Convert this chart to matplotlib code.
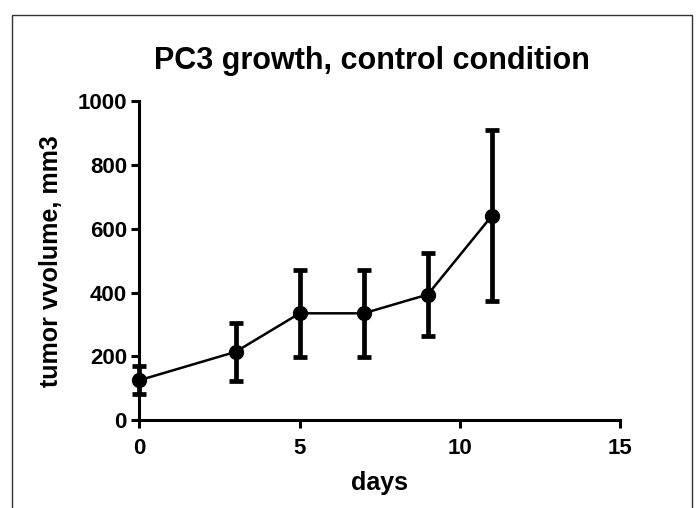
import matplotlib
matplotlib.use("Agg")
import matplotlib.pyplot as plt
from matplotlib.patches import Rectangle

plt.rcParams['font.family'] = ['Liberation Sans', 'DejaVu Sans']
plt.rcParams['font.weight'] = 'bold'

# tumor volume, mean and upper/lower error bar ends
days = [0, 3, 5, 7, 9, 11]
volume = [125, 214, 335, 335, 394, 641]
err_low = [81, 123, 199, 199, 263, 373]
err_high = [170, 304, 472, 472, 525, 910]
xticks = [0, 5, 10, 15]
yticks = [0, 200, 400, 600, 800, 1000]

lower = [v - lo for v, lo in zip(volume, err_low)]
upper = [hi - v for v, hi in zip(volume, err_high)]

fig = plt.figure(figsize=(6.96, 5.08), dpi=100)
ax = fig.add_axes([0.2004, 0.1732, 0.6904, 0.627])

# outer frame like the prism export
fig.patches.append(Rectangle((12 / 696, -0.1), 680 / 696, 1.1 - 15 / 508,
                             transform=fig.transFigure, fill=False,
                             edgecolor='#333333', lw=1.0))

ax.plot(days, volume, color='black', lw=1.8, zorder=2)
ax.errorbar(days, volume, yerr=[lower, upper], fmt='o', color='black',
            ms=10, elinewidth=3.4, capsize=5, capthick=3.4, zorder=3)

ax.set_xlim(0, 15)
ax.set_ylim(0, 1000)
ax.set_xticks(xticks)
ax.set_yticks(yticks)
ax.spines['top'].set_visible(False)
ax.spines['right'].set_visible(False)
for s in ['left', 'bottom']:
    ax.spines[s].set_linewidth(2.2)
ax.tick_params(width=2.2, length=6, labelsize=16)
ax.tick_params(axis='x', pad=7)
ax.tick_params(axis='y', pad=3)
for art in ax.get_children():
    art.set_clip_on(False)

ax.set_xlabel('days', fontsize=18, fontweight='bold')
ax.set_ylabel('tumor vvolume, mm3', fontsize=18, fontweight='bold')
ax.xaxis.set_label_coords(0.5, (420 - 471) / 318.5)
ax.yaxis.set_label_coords((63 - 139.5) / 480.5, 0.5)
fig.text(0.535, 1 - 69 / 508, 'PC3 growth, control condition', ha='center',
         va='baseline', fontsize=22, fontweight='bold')

fig.savefig('out.png', dpi=100)
